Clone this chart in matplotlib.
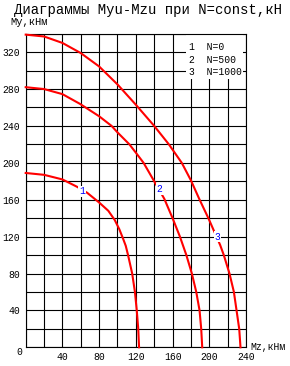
import matplotlib
matplotlib.use("Agg")
import matplotlib.pyplot as plt
from matplotlib.patches import Rectangle
from matplotlib.ticker import MultipleLocator

plt.rcParams["font.family"] = ["Liberation Mono", "DejaVu Sans Mono"]

# N = 0
mz_1 = [0, 20, 40, 56, 67, 80, 90, 97, 102, 106, 109, 111.5, 116, 119, 121,
        122.6, 123.5]
my_1 = [189, 187, 182, 174, 167.5, 157, 148, 138, 128, 118, 110, 100, 80, 60,
        40, 20, 0]
# N = 500
mz_2 = [0, 20, 40, 59, 80, 93.6, 100, 113, 120, 128.4, 140, 151, 160, 168,
        175, 181, 185.8, 189.4, 191.2, 192.3]
my_2 = [282, 280, 274.5, 264, 250.5, 240, 233, 220, 211, 200, 180, 161, 140,
        120, 100, 80, 60, 40, 20, 0]
# N = 1000
mz_3 = [0, 20, 40, 60, 80, 100, 120, 140, 156, 170, 180, 189, 199, 211.8,
        215.8, 222, 226.8, 229.7, 232.6, 234]
my_3 = [339, 337, 330, 319, 304.5, 285, 263, 240, 220, 200, 181, 161, 140, 111,
        100, 80, 60, 40, 20, 0]

curve_labels = ["1", "2", "3"]
label_pos = [(61, 169), (146, 172), (209, 120)]
legend_rows = ["1  N=0", "2  N=500", "3  N=1000"]

fig = plt.figure(figsize=(2.9, 3.66), dpi=100)
ax = fig.add_axes([0.0886, 0.0511, 0.7597, 0.8568])

ax.set_xlim(0, 240)
ax.set_ylim(0, 340)
ax.xaxis.set_major_locator(MultipleLocator(40))
ax.xaxis.set_minor_locator(MultipleLocator(20))
ax.yaxis.set_major_locator(MultipleLocator(40))
ax.yaxis.set_minor_locator(MultipleLocator(20))
ax.set_axisbelow(True)
ax.grid(which="both", color="black", lw=0.8)
for s in ax.spines.values():
    s.set_color("black")
    s.set_linewidth(0.8)
ax.tick_params(which="both", length=0, labelsize=7, colors="black")
ax.tick_params(axis="x", pad=3.4)
ax.tick_params(axis="y", pad=4)

ax.set_xticks(range(40, 241, 40))
ax.set_yticks(range(40, 321, 40))
ax.text(-4, -5, "0", fontsize=7, ha="right", va="center", clip_on=False)

for mz, my in [(mz_1, my_1), (mz_2, my_2), (mz_3, my_3)]:
    ax.plot(mz, my, color="#ff0000", lw=1.5, zorder=3, clip_on=False,
            solid_joinstyle="round")

for lab, (x, y) in zip(curve_labels, label_pos):
    ax.text(x, y, lab, color="#0000ff", fontsize=7, ha="center", va="center",
            zorder=4, bbox=dict(facecolor="white", edgecolor="none", pad=0.6))

# legend box covering the grid
ax.add_patch(Rectangle((175, 291), 62, 47.5, facecolor="white",
                       edgecolor="none", zorder=1.5))
for i, row in enumerate(legend_rows):
    ax.text(178, 326 - i * 14, row, fontsize=7, ha="left", va="center", zorder=2)

fig.text(0.51, 0.973, "Диаграммы Myu-Mzu при N=const,кН", fontsize=10,
         ha="center", va="center")
fig.text(10 / 290, 1 - 22 / 366, "My,кНм", fontsize=7.5, ha="left", va="center")
fig.text(250 / 290, 1 - 347 / 366, "Mz,кНм", fontsize=7, ha="left", va="center")

fig.savefig("out.png", dpi=100)
